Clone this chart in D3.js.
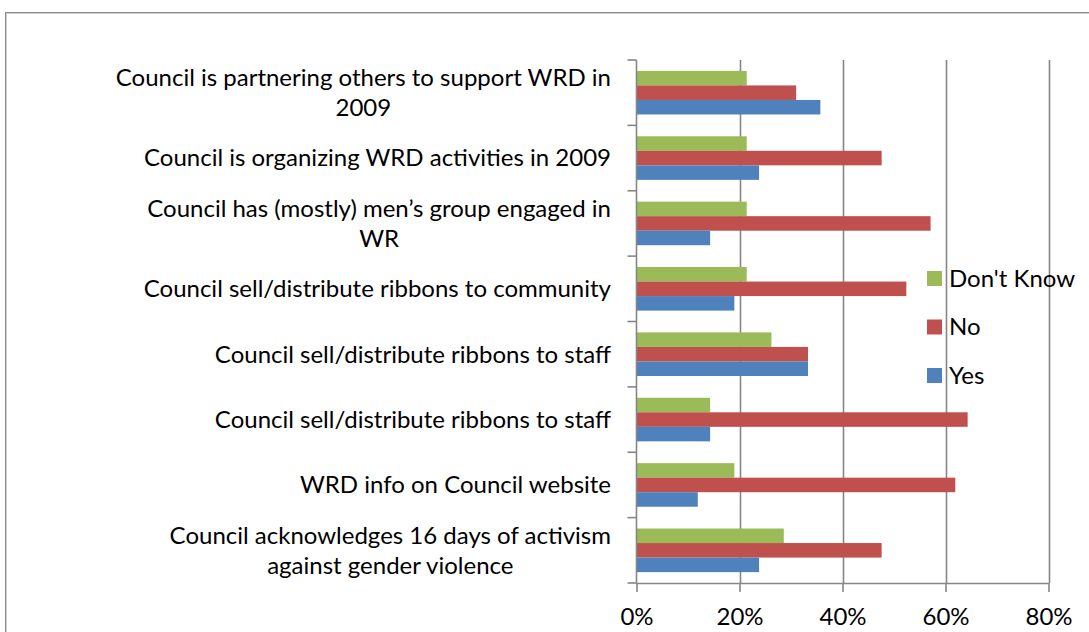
<!DOCTYPE html>
<html>
<head>
<meta charset="utf-8">
<script src="https://cdn.jsdelivr.net/npm/d3@7"></script>
<style>
  html, body { margin: 0; padding: 0; background: #fff; }
  svg { display: block; }
  text { font-family: Lato, "Liberation Sans", sans-serif; fill: #000; }
</style>
</head>
<body>
<svg id="chart" width="1089" height="632"></svg>
<script>
// Survey questions, top to bottom
const categories = [
  "Council is partnering others to support WRD in 2009",
  "Council is organizing WRD activities in 2009",
  "Council has (mostly) men\u2019s group engaged in WR",
  "Council sell/distribute ribbons to community",
  "Council sell/distribute ribbons to staff",
  "Council sell/distribute ribbons to staff",
  "WRD info on Council website",
  "Council acknowledges 16 days of activism against gender violence"
];

// Share of responses per question (fractions)
const dontKnow = [0.214, 0.214, 0.214, 0.214, 0.262, 0.143, 0.190, 0.286];
const no       = [0.310, 0.476, 0.571, 0.524, 0.333, 0.643, 0.619, 0.476];
const yes      = [0.357, 0.238, 0.143, 0.190, 0.333, 0.143, 0.119, 0.238];

const seriesNames = ["Don't Know", "No", "Yes"];
const seriesValues = [dontKnow, no, yes];
const seriesColors = ["#9BBB59", "#C0504D", "#4F81BD"];

const xTicks = [0, 0.2, 0.4, 0.6, 0.8];

const svg = d3.select("#chart");
const FONT = 24;
const LINE_H = 30;

// Chart area frame
svg.append("rect")
  .attr("x", 5.5).attr("y", 12.5)
  .attr("width", 1200).attr("height", 800)
  .attr("fill", "none").attr("stroke", "#8a8a8a").attr("stroke-width", 1);
svg.append("rect")
  .attr("x", 6.5).attr("y", 13.5)
  .attr("width", 1200).attr("height", 800)
  .attr("fill", "none").attr("stroke", "#d0d0d0").attr("stroke-width", 1);

const plot = { left: 636.5, right: 1048.5, top: 60, bottom: 583 };

const x = d3.scaleLinear().domain([0, 0.8]).range([plot.left, plot.right]);
const y = d3.scaleBand().domain(d3.range(categories.length))
  .range([plot.top, plot.bottom]).padding(0);
const bw = y.bandwidth();
// Clustered bars with 150% gap width
const ySeries = d3.scaleBand().domain(d3.range(seriesNames.length))
  .range([bw / 6, bw * 5 / 6]).padding(0);

// Vertical gridlines
svg.append("g").selectAll("line")
  .data(xTicks.slice(1))
  .join("line")
  .attr("x1", d => Math.round(x(d)) + 0.5).attr("x2", d => Math.round(x(d)) + 0.5)
  .attr("y1", plot.top).attr("y2", plot.bottom)
  .attr("stroke", "#868686").attr("stroke-width", 1.6);

// Bars
const groups = svg.append("g").selectAll("g")
  .data(categories.map((c, i) => i))
  .join("g")
  .attr("transform", i => `translate(0,${y(i)})`);

groups.selectAll("rect")
  .data(i => seriesValues.map((vals, s) => ({ s, v: vals[i] })))
  .join("rect")
  .attr("x", x(0))
  .attr("y", d => ySeries(d.s))
  .attr("width", d => x(d.v) - x(0))
  .attr("height", ySeries.bandwidth())
  .attr("fill", d => seriesColors[d.s]);

// Horizontal (value) axis
const xAxis = d3.axisBottom(x).tickValues(xTicks).tickFormat(d3.format(".0%"))
  .tickSizeOuter(0).tickSizeInner(9).tickPadding(16);
const gx = svg.append("g").attr("transform", `translate(0,${plot.bottom})`).call(xAxis);
gx.select(".domain").attr("stroke", "#868686").attr("stroke-width", 1.6);
gx.selectAll(".tick line").attr("stroke", "#868686").attr("stroke-width", 1.6);
gx.selectAll(".tick text").attr("font-size", FONT).attr("font-family", null)
  .attr("dy", "0.71em");

// Vertical (category) axis
svg.append("line")
  .attr("x1", plot.left).attr("x2", plot.left)
  .attr("y1", plot.top).attr("y2", plot.bottom)
  .attr("stroke", "#868686").attr("stroke-width", 1.6);
svg.append("g").selectAll("line")
  .data(d3.range(categories.length + 1))
  .join("line")
  .attr("x1", plot.left - 9).attr("x2", plot.left)
  .attr("y1", i => plot.top + i * bw).attr("y2", i => plot.top + i * bw)
  .attr("stroke", "#868686").attr("stroke-width", 1.6);

// Category labels, wrapped and centred, right edge aligned
const LABEL_RIGHT = 611;
const MAX_W = 505;
const labels = svg.append("g");
categories.forEach((c, i) => {
  const t = labels.append("text").attr("font-size", FONT).attr("text-anchor", "middle");
  const words = c.split(" ");
  const lines = [];
  let cur = [];
  const probe = labels.append("text").attr("font-size", FONT);
  words.forEach(w => {
    const trial = cur.concat([w]).join(" ");
    probe.text(trial);
    if (probe.node().getComputedTextLength() > MAX_W && cur.length) {
      lines.push(cur.join(" "));
      cur = [w];
    } else {
      cur.push(w);
    }
  });
  if (cur.length) lines.push(cur.join(" "));
  let maxW = 0;
  lines.forEach(l => { probe.text(l); maxW = Math.max(maxW, probe.node().getComputedTextLength()); });
  probe.remove();
  const cx = LABEL_RIGHT - maxW / 2;
  const cy = y(i) + bw / 2;
  lines.forEach((l, k) => {
    t.append("tspan")
      .attr("x", cx)
      .attr("y", cy + (k - (lines.length - 1) / 2) * LINE_H)
      .attr("dy", "0.35em")
      .text(l);
  });
});

// Legend
const legend = svg.append("g");
seriesNames.forEach((name, s) => {
  const ly = 271 + s * 48.5;
  legend.append("rect")
    .attr("x", 927).attr("y", ly).attr("width", 15).attr("height", 15)
    .attr("fill", seriesColors[s]);
  legend.append("text")
    .attr("x", 949).attr("y", ly + 7.5).attr("dy", "0.35em")
    .attr("font-size", FONT)
    .text(name);
});
</script>
</body>
</html>
